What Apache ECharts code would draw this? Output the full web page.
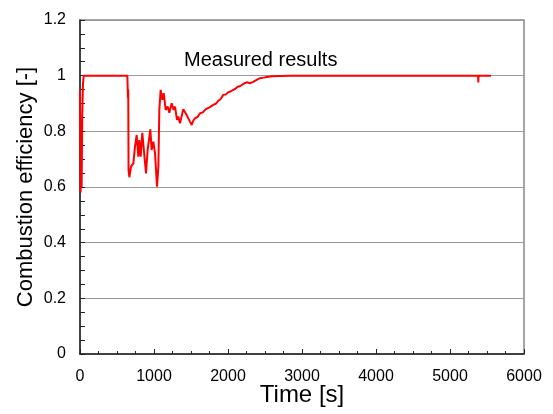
<!DOCTYPE html>
<html><head><meta charset="utf-8">
<script src="https://cdn.jsdelivr.net/npm/echarts@6/dist/echarts.min.js"></script>
<style>html,body{margin:0;padding:0;background:#fff}#c{width:553px;height:414px}</style>
</head><body><div id="c"></div>
<script>
const timeS = [0,8,15,22,30,40,50,300,640,644,648,652,656,667,689,721,743,766,788,802,820,842,865,892,914,932,950,968,991,1014,1041,1059,1072,1090,1113,1131,1158,1185,1207,1239,1266,1284,1311,1329,1351,1396,1441,1486,1509,1530,1554,1590,1622,1660,1700,1750,1802,1840,1870,1900,1937,1970,2000,2040,2072,2100,2130,2160,2185,2220,2252,2300,2340,2387,2432,2480,2523,2600,2703,2850,3000,4000,5000,5380,5383,5386,5554];
const efficiency = [0.95,0.58,0.70,0.60,0.85,0.97,1.0,1.0,1.0,1.0,0.92,0.95,0.661,0.635,0.673,0.685,0.745,0.787,0.709,0.769,0.709,0.795,0.727,0.649,0.733,0.769,0.807,0.733,0.763,0.721,0.601,0.673,0.877,0.949,0.913,0.937,0.877,0.889,0.867,0.901,0.877,0.889,0.841,0.853,0.829,0.879,0.859,0.835,0.823,0.838,0.847,0.852,0.865,0.868,0.880,0.886,0.895,0.900,0.910,0.916,0.931,0.932,0.940,0.944,0.949,0.953,0.960,0.962,0.967,0.972,0.976,0.973,0.978,0.985,0.991,0.993,0.995,0.998,0.999,1.0,1.0,1.0,1.0,1.0,0.976,1.0,1.0];
const xTicks = [0,1000,2000,3000,4000,5000,6000];
const yTicks = [0,0.2,0.4,0.6,0.8,1,1.2];
const titleText = 'Measured results';
const xName = 'Time [s]';
const yName = 'Combustion efficiency [-]';

const font = 'Liberation Sans, Arial, sans-serif';
const chart = echarts.init(document.getElementById('c'), null, {renderer:'canvas'});
chart.setOption({
  animation:false,
  backgroundColor:'#fff',
  title:{text:titleText,left:179,top:45,textStyle:{fontFamily:font,fontSize:20,fontWeight:'normal',color:'#000'}},
  grid:{left:80,right:29,top:20,bottom:60,outerBoundsMode:'none',containLabel:false,show:true,borderColor:'#888',borderWidth:1.5,backgroundColor:'transparent'},
  xAxis:{type:'value',min:xTicks[0],max:xTicks[xTicks.length-1],interval:1000,
    name:xName,nameLocation:'middle',nameGap:29,nameMoveOverlap:false,nameTextStyle:{fontFamily:font,fontSize:24,color:'#000'},
    axisLine:{show:true,lineStyle:{color:'#222',width:1.5}},
    axisTick:{show:true,inside:true,length:5,lineStyle:{color:'#222'}},
    minorTick:{show:true,splitNumber:4,length:3,lineStyle:{color:'#222'}},
    axisLabel:{margin:15,fontFamily:font,fontSize:16,color:'#000',formatter:v=>String(v)},
    splitLine:{show:false}},
  yAxis:{type:'value',min:yTicks[0],max:yTicks[yTicks.length-1],interval:0.2,
    name:yName,nameLocation:'middle',nameGap:43,nameMoveOverlap:false,nameTextStyle:{fontFamily:font,fontSize:22,color:'#000'},
    axisLine:{show:true,lineStyle:{color:'#222',width:1.5}},
    axisTick:{show:true,inside:true,length:5,lineStyle:{color:'#222'}},
    minorTick:{show:true,splitNumber:4,length:5,lineStyle:{color:'#222'}},
    axisLabel:{margin:14,fontFamily:font,fontSize:16,color:'#000'},
    splitLine:{show:true,lineStyle:{color:'#999',width:1}}},
  series:[{type:'line',data:timeS.map((t,i)=>[t,efficiency[i]]),showSymbol:false,
    lineStyle:{color:'#ff0000',width:2},itemStyle:{color:'#ff0000'}}]
});
</script></body></html>
